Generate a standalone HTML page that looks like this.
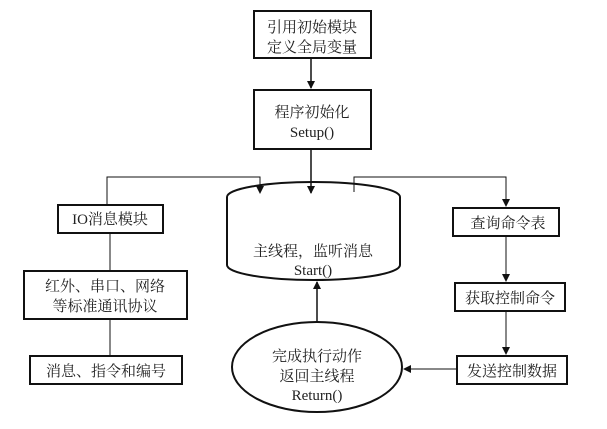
<!DOCTYPE html>
<html><head><meta charset="utf-8"><style>
body{margin:0;background:#fff}
svg text{font-family:"Liberation Serif","Noto Serif CJK SC",serif;font-size:15px;fill:#222;text-anchor:middle}
</style></head><body>
<svg width="607" height="424" viewBox="0 0 607 424" xmlns="http://www.w3.org/2000/svg">
<defs><marker id="a" markerWidth="8" markerHeight="8" refX="7" refY="4" orient="auto" markerUnits="userSpaceOnUse"><path d="M0,0 L8,4 L0,8 z" fill="#111"/></marker></defs>
<g fill="none" stroke="#111" stroke-width="1.5">
<rect x="254" y="11" width="117" height="47" stroke-width="2"/>
<rect x="254" y="90" width="117" height="59" stroke-width="2"/>
<rect x="58" y="205" width="105" height="28" stroke-width="2"/>
<rect x="24" y="271" width="163" height="48" stroke-width="2"/>
<rect x="30" y="356" width="152" height="28" stroke-width="2"/>
<rect x="453" y="208" width="106" height="28" stroke-width="2"/>
<rect x="455" y="283" width="110" height="28" stroke-width="2"/>
<rect x="457" y="356" width="110" height="28" stroke-width="2"/>
<path d="M227,197 L227,265 A86.5,15 0 0 0 400,265 L400,197 A86.5,15 0 0 0 227,197 Z" stroke-width="2"/>
<ellipse cx="317" cy="367" rx="85" ry="45" stroke-width="2"/>
<line x1="311" y1="58" x2="311" y2="88" marker-end="url(#a)"/>
<line x1="311" y1="149" x2="311" y2="193" marker-end="url(#a)"/>
<polyline points="107,205 107,177 260,177 260,193" marker-end="url(#a)" stroke-width="1"/>
<polyline points="354,192 354,177 506,177 506,206" marker-end="url(#a)" stroke-width="1"/>
<line x1="110" y1="233" x2="110" y2="271" stroke-width="1"/>
<line x1="110" y1="319" x2="110" y2="356" stroke-width="1"/>
<line x1="506" y1="236" x2="506" y2="281" marker-end="url(#a)" stroke-width="1"/>
<line x1="506" y1="311" x2="506" y2="354" marker-end="url(#a)" stroke-width="1"/>
<line x1="457" y1="369" x2="404" y2="369" marker-end="url(#a)" stroke-width="1"/>
<line x1="317" y1="322" x2="317" y2="282" marker-end="url(#a)"/>
</g>
<text x="312" y="32">引用初始模块</text>
<text x="312" y="52">定义全局变量</text>
<text x="312" y="117">程序初始化</text>
<text x="312" y="137" font-size="14">Setup()</text>
<text x="110" y="224">IO消息模块</text>
<text x="105" y="291">红外、串口、网络</text>
<text x="105" y="311">等标准通讯协议</text>
<text x="106" y="376">消息、指令和编号</text>
<text x="508" y="228">查询命令表</text>
<text x="510" y="303">获取控制命令</text>
<text x="512" y="376">发送控制数据</text>
<text x="313" y="256">主线程，监听消息</text>
<text x="313" y="275" font-size="14">Start()</text>
<text x="317" y="361">完成执行动作</text>
<text x="317" y="381">返回主线程</text>
<text x="317" y="400" font-size="14">Return()</text>
</svg>
</body></html>
